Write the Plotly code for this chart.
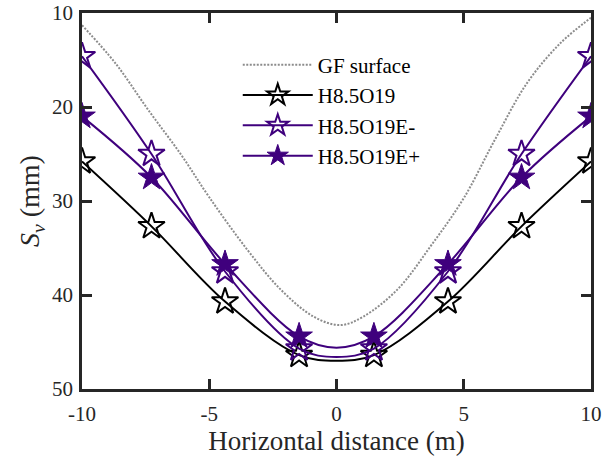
import plotly.graph_objects as go

# GF surface (dotted reference curve)
gf_x = [-10, -8.7, -7.4, -6.1, -5.0, -3.5, -2.2, -0.9, 0.15, 1.05, 2.4, 3.7, 5.0, 6.2, 7.5, 8.8, 10]
gf_y = [11.3, 15.3, 20.3, 25.1, 29.6, 35.2, 39.4, 42.3, 43.2, 42.3, 39.4, 34.8, 29.7, 23.6, 17.4, 13.2, 10.5]

# measured series (center point at x=0 carries no marker)
s_x = [-10, -7.27, -4.38, -1.47, 0, 1.47, 4.38, 7.27, 10]
h_y = [25.8, 32.7, 40.7, 46.4, 47.0, 46.4, 40.7, 32.7, 25.8]
em_y = [14.6, 25.0, 37.5, 45.7, 46.6, 45.7, 37.5, 25.0, 14.6]
ep_y = [21.0, 27.5, 36.7, 44.4, 45.6, 44.4, 36.7, 27.5, 21.0]
names = ["GF surface", "H8.5O19", "H8.5O19E-", "H8.5O19E+"]

x_ticks = [-10, -5, 0, 5, 10]
y_ticks = [10, 20, 30, 40, 50]

PURPLE = "#3F007D"
FONT = "Liberation Serif, Tinos, 'Times New Roman', 'DejaVu Serif', serif"
MS = 20
sizes = [MS if x != 0 else 0 for x in s_x]

fig = go.Figure()
fig.add_trace(go.Scatter(x=gf_x, y=gf_y, mode="lines", name=names[0],
                         line=dict(color="#8c8c8c", width=2, dash="2px,1.5px", shape="spline")))
fig.add_trace(go.Scatter(x=s_x, y=h_y, mode="lines+markers", name=names[1],
                         line=dict(color="black", width=2, shape="spline"),
                         marker=dict(symbol="star-open", size=sizes, color="black", opacity=1,
                                     line=dict(width=2, color="black"))))
fig.add_trace(go.Scatter(x=s_x, y=em_y, mode="lines+markers", name=names[2],
                         line=dict(color=PURPLE, width=2, shape="spline"),
                         marker=dict(symbol="star-open", size=sizes, color=PURPLE, opacity=1,
                                     line=dict(width=2, color=PURPLE))))
fig.add_trace(go.Scatter(x=s_x, y=ep_y, mode="lines+markers", name=names[3],
                         line=dict(color=PURPLE, width=2, shape="spline"),
                         marker=dict(symbol="star", size=sizes, color=PURPLE, opacity=1,
                                     line=dict(width=1, color=PURPLE))))

axis_common = dict(showline=True, linewidth=2.5, linecolor="#262626", mirror="ticks",
                   ticks="inside", ticklen=10, tickwidth=2.5, tickcolor="#262626",
                   showgrid=False, zeroline=False, automargin=False,
                   tickfont=dict(family=FONT, size=21, color="#262626"))

fig.update_layout(
    width=611, height=457,
    margin=dict(l=82, r=20, t=13, b=68),
    paper_bgcolor="white", plot_bgcolor="white",
    font=dict(family=FONT, size=21, color="#262626"),
    xaxis=dict(range=[-10, 10], tickvals=x_ticks, ticktext=[str(v) for v in x_ticks],
               title=dict(text="Horizontal distance (m)", font=dict(family=FONT, size=27, color="#262626"), standoff=2),
               ticklabelstandoff=4, **axis_common),
    yaxis=dict(range=[50, 10], tickvals=y_ticks, ticktext=[str(v) for v in y_ticks],
               title=dict(text="<i>S<sub>v</sub></i> (mm)", font=dict(family=FONT, size=28, color="#262626"), standoff=5),
               ticklabelstandoff=2, **axis_common),
    legend=dict(x=0.306, y=0.916, xanchor="left", yanchor="top", bgcolor="rgba(0,0,0,0)",
                font=dict(family=FONT, size=21, color="black"), itemwidth=70,
                tracegroupgap=0),
    showlegend=True,
)

fig.write_html("out.html")
